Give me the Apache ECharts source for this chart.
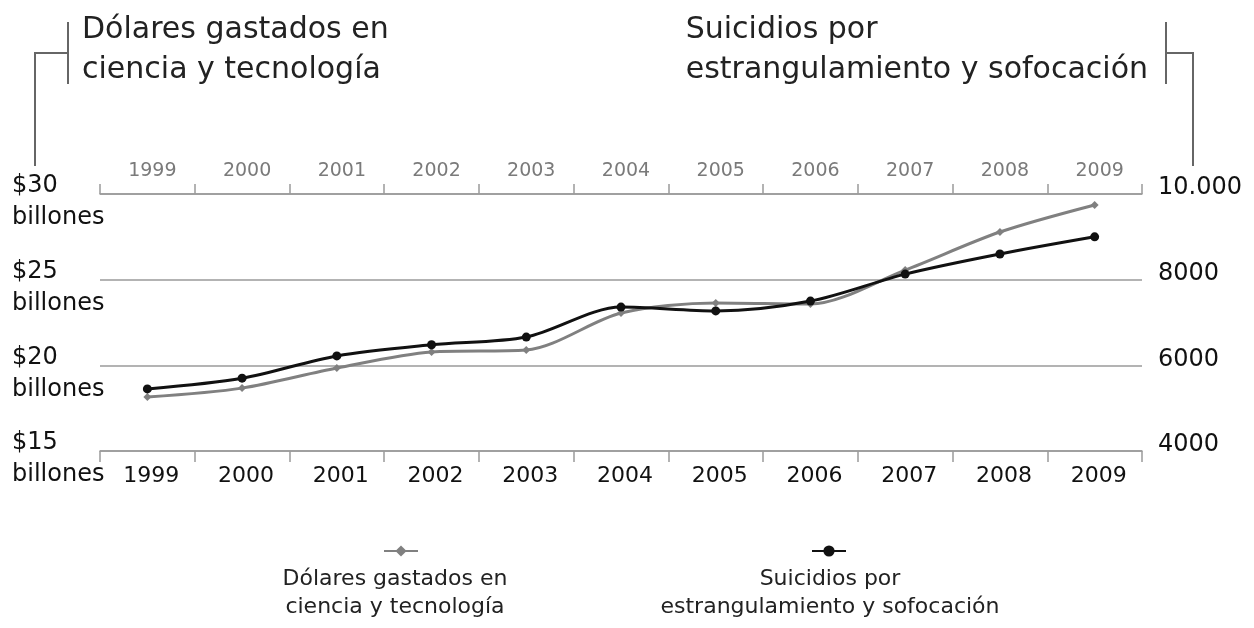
<!DOCTYPE html>
<html>
<head>
<meta charset="utf-8">
<script src="https://cdn.jsdelivr.net/npm/echarts@6/dist/echarts.min.js"></script>
<style>
  html, body { margin: 0; padding: 0; background: #fff; }
  #chart { width: 1254px; height: 628px; }
</style>
</head>
<body>
<div id="chart"></div>
<script>
  // data
  const years = ['1999','2000','2001','2002','2003','2004','2005','2006','2007','2008','2009']
  const dolares = [18.15, 18.67, 19.84, 20.78, 20.89, 23.05, 23.64, 23.58, 25.56, 27.78, 29.36]
  const suicidios = [5450, 5700, 6220, 6480, 6660, 7360, 7270, 7500, 8130, 8600, 9000]
  const nameDolares = ['Dólares gastados en', 'ciencia y tecnología']
  const nameSuicidios = ['Suicidios por', 'estrangulamiento y sofocación']

  const font = '"DejaVu Sans", sans-serif'
  const grey = '#808080'
  const black = '#111'
  const axisGrey = '#9a9a9a'

  const chart = echarts.init(document.getElementById('chart'))
  chart.setOption({
    animation: false,
    textStyle: { fontFamily: font },
    grid: { left: 100, right: 112, top: 194, bottom: 177 },
    legend: [
      {
        left: 378, top: 539, itemWidth: 34, itemHeight: 14, itemGap: 0,
        data: [nameDolares.join(' ')],
        formatter: () => '',
        selectedMode: false
      },
      {
        left: 806, top: 539, itemWidth: 34, itemHeight: 14, itemGap: 0,
        data: [nameSuicidios.join(' ')],
        formatter: () => '',
        selectedMode: false
      }
    ],
    xAxis: [
      {
        type: 'category', data: years, position: 'top',
        axisLine: { lineStyle: { color: axisGrey, width: 1.5 } },
        axisTick: { show: true, interval: 0, length: 10, lineStyle: { color: axisGrey, width: 1.5 } },
        axisLabel: { color: '#7a7a7a', fontSize: 19, margin: 13, fontFamily: font, padding: [0, 0, 0, 10] }
      },
      {
        type: 'category', data: years, position: 'bottom',
        axisLine: { lineStyle: { color: axisGrey, width: 1.5 } },
        axisTick: { show: true, interval: 0, length: 11, lineStyle: { color: axisGrey, width: 1.5 } },
        axisLabel: { color: black, fontSize: 22, margin: 14, fontFamily: font, padding: [0, 0, 0, 8] }
      }
    ],
    yAxis: [
      {
        type: 'value', min: 15, max: 30, interval: 5, position: 'left',
        axisLine: { show: false }, axisTick: { show: false },
        splitLine: { lineStyle: { color: axisGrey, width: 1.5 } },
        axisLabel: {
          color: black, fontSize: 24, margin: 88, align: 'left',
          showMinLabel: true, showMaxLabel: true, hideOverlap: false,
          fontFamily: font,
          formatter: v => '{a|$' + v + '}\n{b|billones}',
          rich: {
            a: { fontSize: 24, lineHeight: 48, color: black, fontFamily: font },
            b: { fontSize: 24, lineHeight: 16, color: black, fontFamily: font }
          }
        }
      },
      {
        type: 'value', min: 4000, max: 10000, interval: 2000, position: 'right',
        axisLine: { show: false }, axisTick: { show: false },
        splitLine: { show: false },
        axisLabel: {
          color: black, fontSize: 24, margin: 16, align: 'left',
          showMinLabel: true, showMaxLabel: true,
          verticalAlign: 'bottom', lineHeight: 12, fontFamily: font,
          formatter: v => v === 10000 ? '10.000' : String(v)
        }
      }
    ],
    series: [
      {
        name: nameDolares.join(' '), type: 'line', xAxisIndex: 1, yAxisIndex: 0,
        data: dolares, smooth: 0.3,
        symbol: 'diamond', symbolSize: 8,
        lineStyle: { color: grey, width: 3 },
        itemStyle: { color: grey }
      },
      {
        name: nameSuicidios.join(' '), type: 'line', xAxisIndex: 1, yAxisIndex: 1,
        data: suicidios, smooth: 0.3,
        symbol: 'circle', symbolSize: 9,
        lineStyle: { color: black, width: 3 },
        itemStyle: { color: black }
      }
    ],
    graphic: [
      // titles
      { type: 'text', left: 82, top: 10, style: { text: nameDolares.join('\n'), fontSize: 30, lineHeight: 40, fill: '#222', fontFamily: font } },
      { type: 'text', right: 106, top: 10, style: { text: nameSuicidios.join('\n'), fontSize: 30, lineHeight: 40, fill: '#222', align: 'right', fontFamily: font } },
      // brackets
      { type: 'polyline', shape: { points: [[68, 22], [68, 84]] }, style: { stroke: '#666', lineWidth: 2, fill: null } },
      { type: 'polyline', shape: { points: [[68, 53], [35, 53], [35, 166]] }, style: { stroke: '#666', lineWidth: 2, fill: null } },
      { type: 'polyline', shape: { points: [[1166, 22], [1166, 84]] }, style: { stroke: '#666', lineWidth: 2, fill: null } },
      { type: 'polyline', shape: { points: [[1166, 53], [1193, 53], [1193, 166]] }, style: { stroke: '#666', lineWidth: 2, fill: null } },
      // legend texts under the icons
      { type: 'text', x: 395, y: 565, style: { text: nameDolares.join('\n'), fontSize: 22, lineHeight: 28, fill: '#222', align: 'center', fontFamily: font } },
      { type: 'text', x: 830, y: 565, style: { text: nameSuicidios.join('\n'), fontSize: 22, lineHeight: 28, fill: '#222', align: 'center', fontFamily: font } }
    ]
  })
</script>
</body>
</html>
